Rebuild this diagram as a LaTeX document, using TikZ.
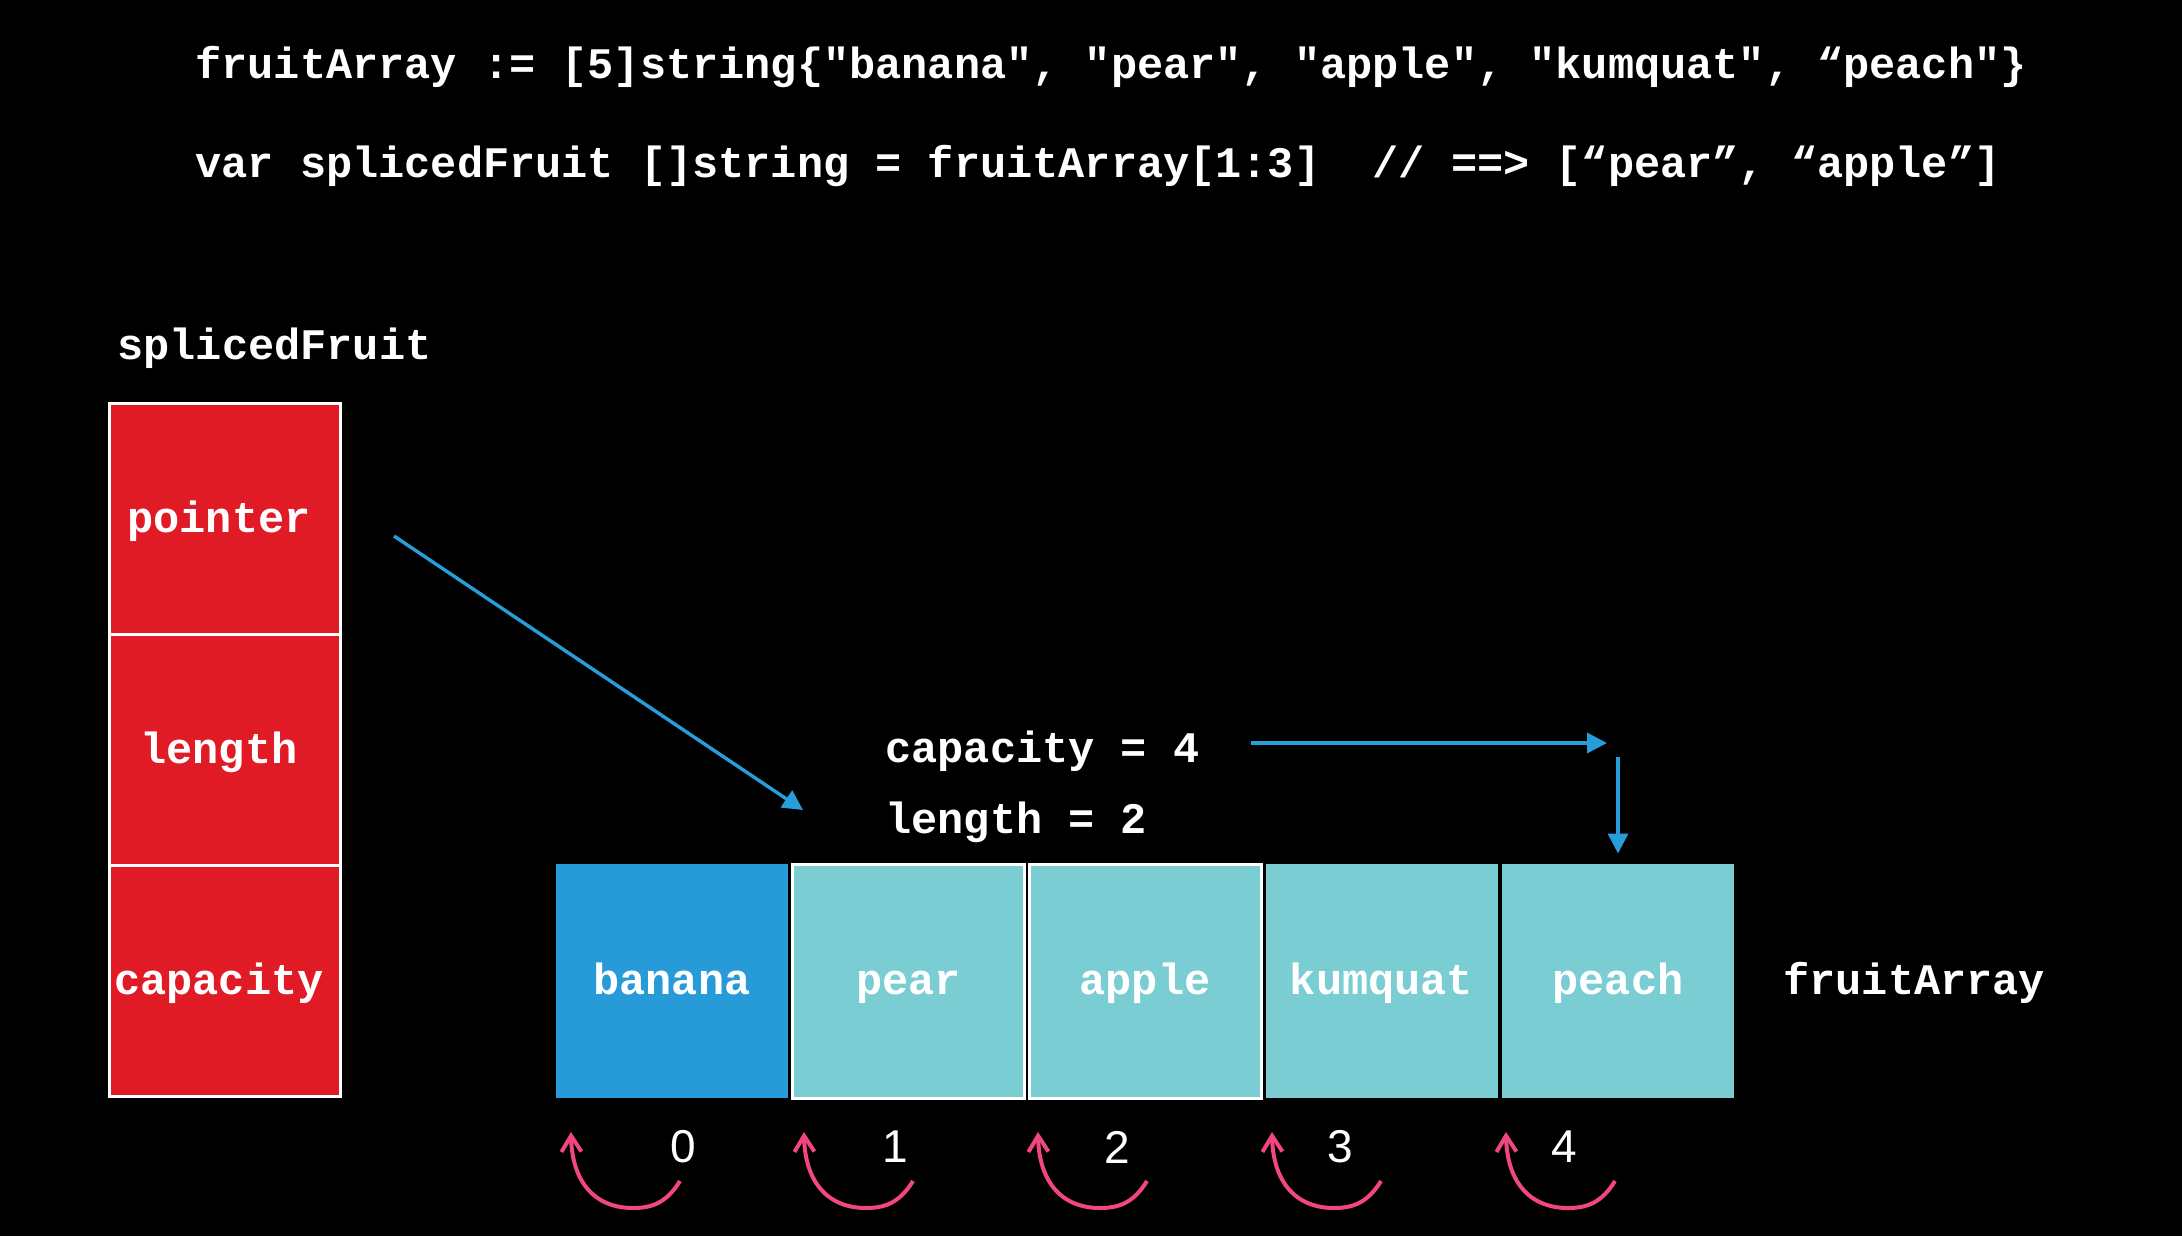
\documentclass[tikz,border=0pt]{standalone}
\usepackage{fontspec}
\setmonofont{Liberation Mono}
\setsansfont{Liberation Sans}
\usetikzlibrary{positioning,arrows.meta}
\definecolor{slicered}{HTML}{E11B26}
\definecolor{headblue}{HTML}{269BD8}
\definecolor{cellteal}{HTML}{7ACDD2}
\definecolor{ptrblue}{HTML}{279DD9}
\definecolor{idxpink}{HTML}{F2467F}
\frenchspacing

\begin{document}
\begin{tikzpicture}[x=0.5pt,y=-0.5pt,
    code/.style={font=\ttfamily\bfseries\fontsize{21.8pt}{26pt}\selectfont,text=white,inner sep=0pt},
    field/.style={code,draw=white,line width=1.5pt,fill=slicered,minimum width=115.5pt,minimum height=115.5pt,text height=13pt,text depth=0pt,outer sep=0pt,execute at end node=\kern6pt},
    cell/.style={code,line width=1.5pt,minimum width=116pt,minimum height=117pt,text height=13pt,text depth=0pt},
    link/.style={ptrblue,line width=1.7pt,-{Triangle[length=10pt,width=10pt]}},
    hop/.style={idxpink,line width=2pt,-{Straight Barb[length=8pt,width=10pt]}}]
        \useasboundingbox (0,0) rectangle (2182,1236);
        \fill[black] (0,0) rectangle (2182,1236);
        % go source
        \node[code,anchor=base west] (decl) at (195,79) {fruitArray := [5]string\{"banana", "pear", "apple", "kumquat", “peach"\}};
        \node[code,anchor=base west] (slice) at (195,177) {var splicedFruit []string = fruitArray[1:3]\ \ // ==> [“pear”, “apple”]};
        % slice header
        \node[code,anchor=base west] (hdrlabel) at (117,359) {splicedFruit};
        \node[field] (ptr) at (225,519) {pointer};
        \node[field,below=0pt of ptr] (len) {length};
        \node[field,below=0pt of len] (cap) {capacity};
        % backing array
        \foreach \i/\fruit/\bg/\rim in {0/banana/headblue/none,1/pear/cellteal/white,2/apple/cellteal/white,3/kumquat/cellteal/none,4/peach/cellteal/none}
          \node[cell,fill=\bg,draw=\rim] (c\i) at (672+236.5*\i,981) {\fruit};
        \node[code,anchor=base west] (arrlabel) at (1783,994) {fruitArray};
        \node[code,anchor=base west] (capnote) at (885,762) {capacity = 4};
        \node[code,anchor=base west] (lennote) at (885,833) {length = 2};
        % arrows
        \coordinate (ptrtail) at (394,536);
        \coordinate (ptrhead) at (803,810);
        \draw[link] (ptrtail) -- (ptrhead);
        \coordinate (captail) at (1251,743);
        \coordinate (capturn) at (1607,743);
        \draw[link] (captail) -- (capturn);
        \coordinate (capdrop) at ([yshift=53pt]c4.north);
        \draw[link,shorten >=4.5pt] (capdrop) -- (c4.north);
        % indices
        \foreach \n/\tx/\hx in {0/683/571,1/895/804,2/1117/1038,3/1340/1272,4/1564/1506}{
          \node[font=\sffamily\fontsize{23pt}{27pt}\selectfont,text=white,inner sep=0pt] (idx\n) at (\tx,1147) {\n};
          \draw[hop] (\hx+109,1181) .. controls (\hx+96,1202) and (\hx+82,1208) .. (\hx+62,1208) .. controls (\hx+22,1208) and (\hx+1,1180) .. (\hx,1132);}
      \end{tikzpicture}
\end{document}
